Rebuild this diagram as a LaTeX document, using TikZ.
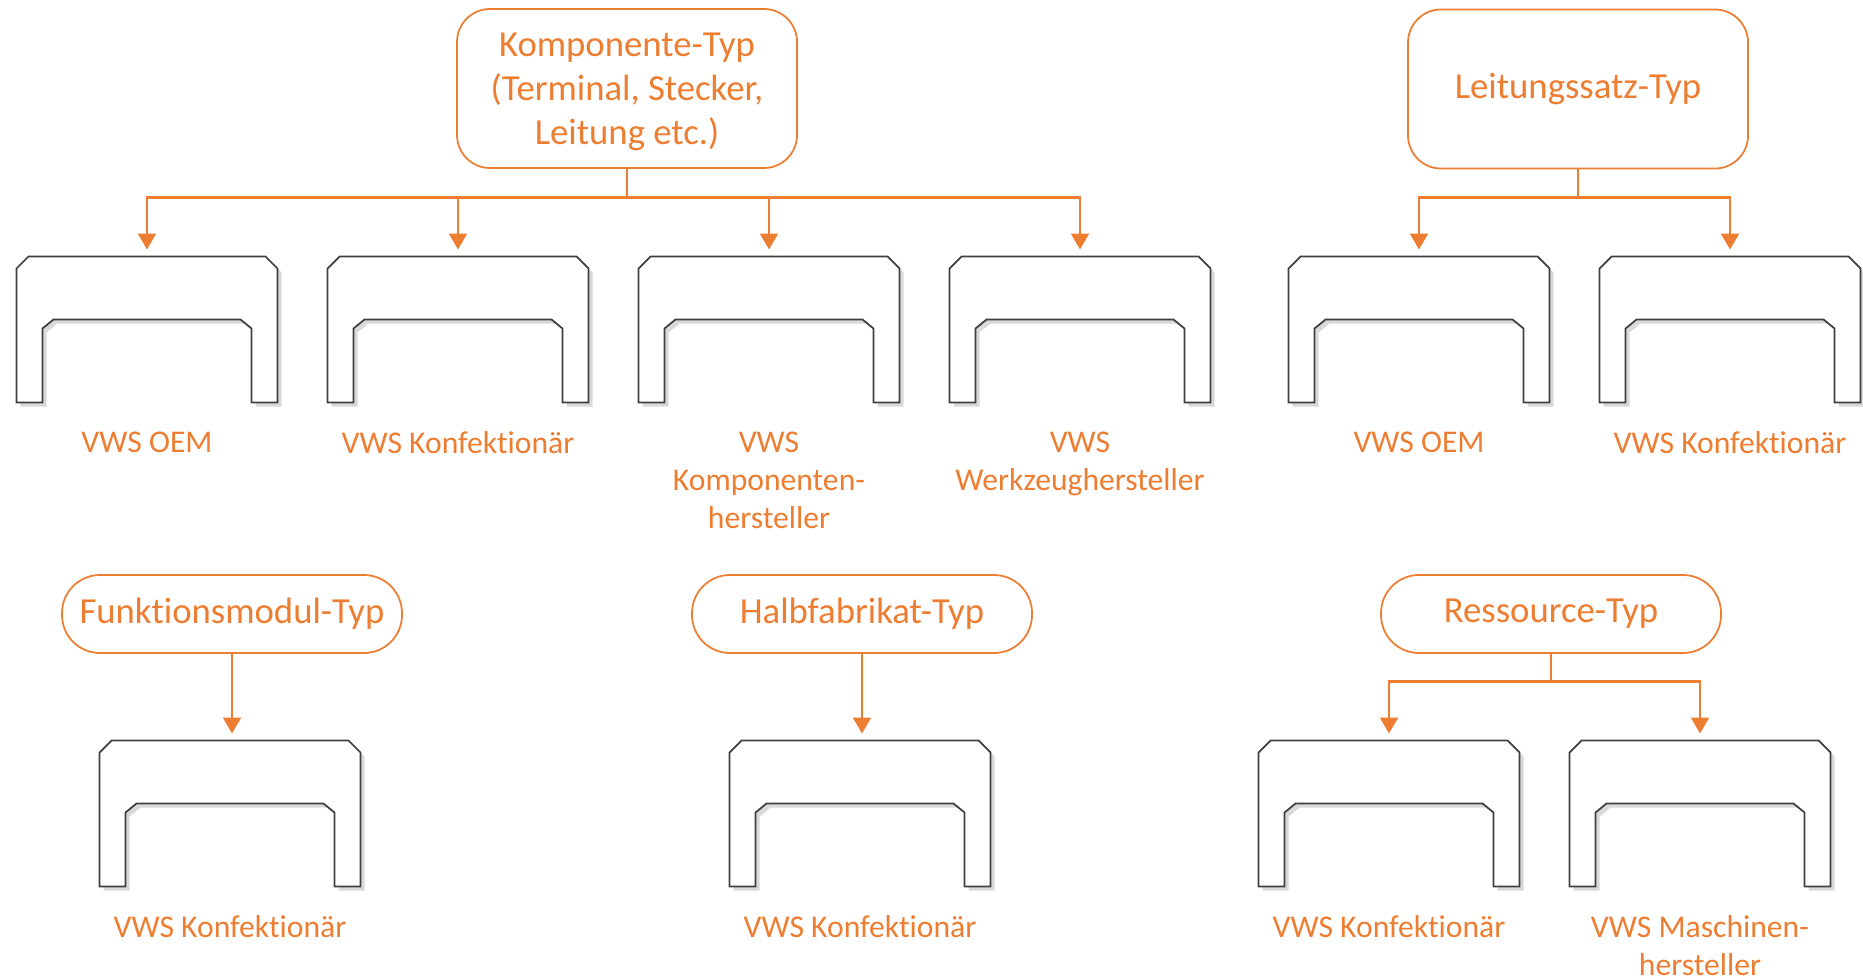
\documentclass[tikz,border=0pt]{standalone}
\usepackage{fontspec}
\setmainfont{Carlito}[Ligatures=NoCommon]
\usetikzlibrary{positioning,shadows,arrows.meta}
\definecolor{orng}{RGB}{237,125,49}
\newcommand{\boxfont}{\fontsize{10.45}{12.5}\selectfont}
\newcommand{\labfont}{\fontsize{9}{10.8}\selectfont}
% clamp outline around an empty node
\newcommand{\clamp}[2]{%
  \node (#1) at (#2) [clampbox] {};
  \draw[clampline] ([yshift=-0.12cm]#1.north west) -- ++(0.12,0.12)
    -- ([xshift=-0.12cm]#1.north east) -- ++(0.12,-0.12) -- (#1.south east)
    -- ++(-0.26,0) -- ++(0,0.74) -- ++(-0.11,0.09) -- ++(-1.87,0)
    -- ++(-0.11,-0.09) -- ++(0,-0.74) -- (#1.south west) -- cycle;
}

\begin{document}
\begin{tikzpicture}
    \tikzstyle{typ}=[rectangle,rounded corners=0.33cm,draw=orng,line width=0.5pt,text=orng,align=center,font=\boxfont,minimum width=3.4cm,minimum height=1.59cm]
    \tikzstyle{typsmall}=[typ,rounded corners=0.38cm,minimum height=0.78cm]
    \tikzstyle{clampbox}=[rectangle,inner sep=0pt,outer sep=0pt,minimum width=2.61cm,minimum height=1.46cm]
    \tikzstyle{clampline}=[draw=black!75,line width=0.5pt,fill=white,drop shadow={shadow xshift=0.04cm,shadow yshift=-0.04cm,opacity=0.3}]
    \tikzstyle{lab}=[text=orng,align=center,font=\labfont]
    \tikzstyle{arrow}=[draw=orng,line width=0.8pt,-{Triangle[width=5pt,length=4.5pt]},shorten >=0.07cm]
    \useasboundingbox (0,0) rectangle (18.63,-9.79);

    % top left
    \node (komp) at (6.27,-0.885) [typ,text depth=0pt] {Komponente-Typ\\(Terminal, Stecker,\\Leitung etc.)};
    \clamp{b1}{1.47,-3.295}
    \clamp{b2}{4.58,-3.295}
    \clamp{b3}{7.69,-3.295}
    \clamp{b4}{10.80,-3.295}
    \node (l1) [lab,below=0.17cm of b1] {VWS OEM};
    \node (l2) [lab,below=0.17cm of b2] {VWS Konfektionär};
    \node (l3) [lab,below=0.17cm of b3] {VWS\\Komponenten-\\hersteller};
    \node (l4) [lab,below=0.17cm of b4] {VWS\\Werkzeughersteller};
    \foreach \b in {b1,b2,b3,b4}
      \draw[arrow] (komp.south) -- ++(0,-0.29) -| (\b.north);

    % top right
    \node (leit) at (15.78,-0.89) [typ] {Leitungssatz-Typ};
    \clamp{b5}{14.19,-3.295}
    \clamp{b6}{17.30,-3.295}
    \node (l5) [lab,below=0.17cm of b5] {VWS OEM};
    \node (l6) [lab,below=0.17cm of b6] {VWS Konfektionär};
    \foreach \b in {b5,b6}
      \draw[arrow] (leit.south) -- ++(0,-0.28) -| (\b.north);

    % bottom row
    \node (funk) at (2.32,-6.14) [typsmall] {Funktionsmodul-Typ};
    \clamp{b7}{2.30,-8.135}
    \node (l7) [lab,below=0.17cm of b7] {VWS Konfektionär};
    \draw[arrow] (funk.south) -- (funk.south |- b7.north);

    \node (halb) at (8.62,-6.14) [typsmall] {Halbfabrikat-Typ};
    \clamp{b8}{8.60,-8.135}
    \node (l8) [lab,below=0.17cm of b8] {VWS Konfektionär};
    \draw[arrow] (halb.south) -- (halb.south |- b8.north);

    \node (res) at (15.51,-6.14) [typsmall] {Ressource-Typ};
    \clamp{b9}{13.89,-8.135}
    \clamp{b10}{17.00,-8.135}
    \node (l9) [lab,below=0.17cm of b9] {VWS Konfektionär};
    \node (l10) [lab,below=0.17cm of b10] {VWS Maschinen-\\hersteller};
    \foreach \b in {b9,b10}
      \draw[arrow] (res.south) -- ++(0,-0.28) -| (\b.north);
\end{tikzpicture}
\end{document}
